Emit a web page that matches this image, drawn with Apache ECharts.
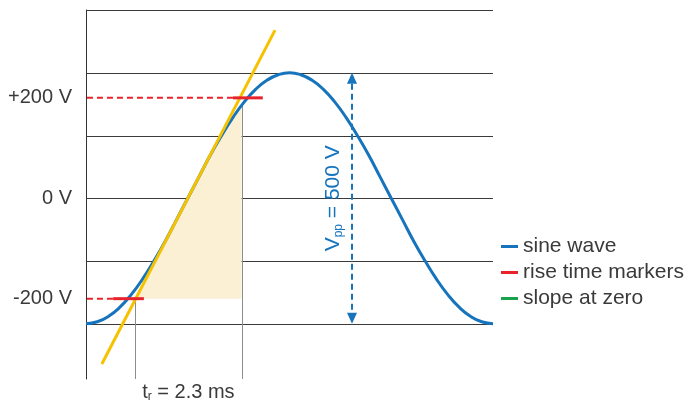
<!DOCTYPE html>
<html><head><meta charset="utf-8">
<script src="https://cdn.jsdelivr.net/npm/echarts@6/dist/echarts.min.js"></script>
<style>html,body{margin:0;padding:0;background:#fff}#c{width:686px;height:405px}</style>
</head><body><div id="c"></div>
<script>
// ---- data (time in ms, voltage in V) ----
const timeMs = [0,0.25,0.5,0.75,1,1.25,1.5,1.75,2,2.25,2.5,2.75,3,3.25,3.5,3.75,4,4.25,4.5,4.75,5,5.25,5.5,5.75,6,6.25,6.5,6.75,7,7.25,7.5,7.75,8,8.25,8.5,8.75,9];
const sineV  = [-250,-246,-235,-217,-192,-161,-125,-86,-43,0,43,86,125,161,192,217,235,246,250,246,235,217,192,161,125,86,43,0,-43,-86,-125,-161,-192,-217,-235,-246,-250];
const tangentT = [0.35, 4.18];
const tangentV = [-330, 335];
const riseLevels = [-200, 200];
const riseTimes = [1.09, 3.44];            // tangent crossings of -200 V / +200 V
const riseTimeLabel = 2.3;                 // ms
const markerDashStart = -0.2;
const markerSolid = [[0.60, 1.28], [3.25, 3.91]];
const gridValues = [375, 250, 125, 0, -125, -250];
const yLabelValues = [-200, 0, 200];
const vppT = 5.88;
const vppRange = [-250, 250];
const xMin = 0, xMax = 9, yMin = -360, yMax = 375;

const BLUE = '#1674bd', RED = '#e8232b', YELLOW = '#f6c200', GREEN = '#1ba34b', FILL = '#fcf0d4';
const FONT = '"Liberation Sans", Arial, sans-serif';
const TXT = '#3a3a3a';

function tangentAt(t){ return tangentV[0] + (tangentV[1]-tangentV[0])*(t-tangentT[0])/(tangentT[1]-tangentT[0]); }
function sineAt(t){
  for (let i=0;i<timeMs.length-1;i++){
    if (t>=timeMs[i] && t<=timeMs[i+1]){
      const f=(t-timeMs[i])/(timeMs[i+1]-timeMs[i]);
      return sineV[i]+(sineV[i+1]-sineV[i])*f;
    }
  }
  return sineV[sineV.length-1];
}
function topAt(t){ return Math.max(riseLevels[0], Math.min(sineAt(t), tangentAt(t))); }

const chart = echarts.init(document.getElementById('c'));

const markerSeries = [];
riseLevels.forEach((lv, i) => {
  markerSeries.push({
    name: 'rise time markers', type: 'line', symbol: 'none', clip: false, z: 6,
    data: [[markerDashStart, lv], [markerSolid[i][0], lv]],
    lineStyle: { color: RED, width: 2, type: [6, 4] }, itemStyle: { color: RED }
  });
  markerSeries.push({
    name: 'rise time markers', type: 'line', symbol: 'none', clip: false, z: 6,
    data: [[markerSolid[i][0], lv], [markerSolid[i][1], lv]],
    lineStyle: { color: RED, width: 3 }, itemStyle: { color: RED }
  });
});

const option = {
  animation: false,
  grid: { left: 86, right: 193, top: 10, bottom: 26 },
  xAxis: { type: 'value', min: xMin, max: xMax, show: false },
  yAxis: {
    type: 'value', min: yMin, max: yMax,
    axisLine: { show: true, lineStyle: { color: '#333', width: 1 } },
    axisTick: { show: false },
    splitLine: { show: false },
    axisLabel: {
      customValues: yLabelValues, margin: 14, fontSize: 20, color: TXT, fontFamily: FONT,
      formatter: v => (v > 0 ? '+' + v : '' + v) + ' V'
    }
  },
  legend: {
    orient: 'vertical', left: 496, top: 231, icon: 'rect', itemWidth: 17, itemHeight: 3, itemGap: 5,
    textStyle: { fontSize: 21, color: TXT, fontFamily: FONT },
    data: [
      { name: 'sine wave', itemStyle: { color: BLUE } },
      { name: 'rise time markers', itemStyle: { color: RED } },
      { name: 'slope at zero', itemStyle: { color: GREEN } }
    ]
  },
  series: [
    { // grid lines
      type: 'custom', z: 1, silent: true,
      data: gridValues.map(v => [xMin, v]),
      renderItem: (params, api) => {
        const v = api.value(1);
        const a = api.coord([xMin, v]), b = api.coord([xMax, v]);
        const y = Math.round(a[1]) + 0.5;
        return { type: 'line', shape: { x1: a[0], y1: y, x2: b[0], y2: y }, style: { stroke: '#3a3a3a', lineWidth: 1 } };
      }
    },
    { // shaded rise region + vertical rise time lines + t_r label
      type: 'custom', z: 2, silent: true,
      data: [[riseTimes[0], riseLevels[0]]],
      renderItem: (params, api) => {
        const pts = [];
        pts.push(api.coord([riseTimes[0], riseLevels[0]]));
        pts.push(api.coord([riseTimes[0], topAt(riseTimes[0])]));
        timeMs.forEach(t => { if (t > riseTimes[0] && t < riseTimes[1]) pts.push(api.coord([t, topAt(t)])); });
        pts.push(api.coord([riseTimes[1], topAt(riseTimes[1])]));
        pts.push(api.coord([riseTimes[1], riseLevels[0]]));
        const children = [{ type: 'polygon', shape: { points: pts }, style: { fill: FILL } }];
        riseTimes.forEach(t => {
          const top = api.coord([t, topAt(t)]), bot = api.coord([t, yMin]);
          const x = Math.round(top[0]) + 0.5;
          children.push({ type: 'line', shape: { x1: x, y1: top[1], x2: x, y2: bot[1] }, style: { stroke: '#8c8c8c', lineWidth: 1 } });
        });
        const mid = api.coord([(riseTimes[0] + riseTimes[1]) / 2, yMin]);
        children.push({
          type: 'text', x: mid[0], y: mid[1] + 13,
          style: {
            text: '{v|t}{s|r}{v| = ' + riseTimeLabel + ' ms}',
            align: 'center', verticalAlign: 'middle', fill: TXT,
            rich: {
              v: { fontSize: 20, fontFamily: FONT, fill: TXT, lineHeight: 22 },
              s: { fontSize: 12, fontFamily: FONT, fill: TXT, padding: [10, 0, 0, 0] }
            }
          }
        });
        return { type: 'group', children };
      }
    },
    {
      name: 'sine wave', type: 'line', symbol: 'none', smooth: true, z: 4,
      data: timeMs.map((t, i) => [t, sineV[i]]),
      lineStyle: { color: BLUE, width: 3 }, itemStyle: { color: BLUE }
    },
    {
      name: 'slope at zero', type: 'line', symbol: 'none', z: 5,
      data: tangentT.map((t, i) => [t, tangentV[i]]),
      lineStyle: { color: YELLOW, width: 3 }, itemStyle: { color: YELLOW }
    },
    ...markerSeries,
    { // Vpp arrow + label
      type: 'custom', z: 3, silent: true,
      data: [[vppT, vppRange[1]]],
      renderItem: (params, api) => {
        const top = api.coord([vppT, vppRange[1]]), bot = api.coord([vppT, vppRange[0]]);
        const x = Math.round(top[0]);
        const ah = 11, aw = 5;
        const children = [
          { type: 'line', shape: { x1: x, y1: top[1] + ah, x2: x, y2: bot[1] - ah }, style: { stroke: BLUE, lineWidth: 2, lineDash: [6, 4] } },
          { type: 'polygon', shape: { points: [[x, top[1]], [x - aw, top[1] + ah], [x + aw, top[1] + ah]] }, style: { fill: BLUE } },
          { type: 'polygon', shape: { points: [[x, bot[1]], [x - aw, bot[1] - ah], [x + aw, bot[1] - ah]] }, style: { fill: BLUE } },
          {
            type: 'text', x: x - 19, y: (top[1] + bot[1]) / 2, rotation: Math.PI / 2,
            style: {
              text: '{v|V}{s|pp}{v| = ' + (vppRange[1] - vppRange[0]) + ' V}',
              align: 'center', verticalAlign: 'middle', fill: BLUE,
              rich: {
                v: { fontSize: 21, fontFamily: FONT, fill: BLUE, lineHeight: 24 },
                s: { fontSize: 12, fontFamily: FONT, fill: BLUE, padding: [11, 0, 0, 0] }
              }
            }
          }
        ];
        return { type: 'group', children };
      }
    }
  ]
};
chart.setOption(option);
</script>
</body></html>
